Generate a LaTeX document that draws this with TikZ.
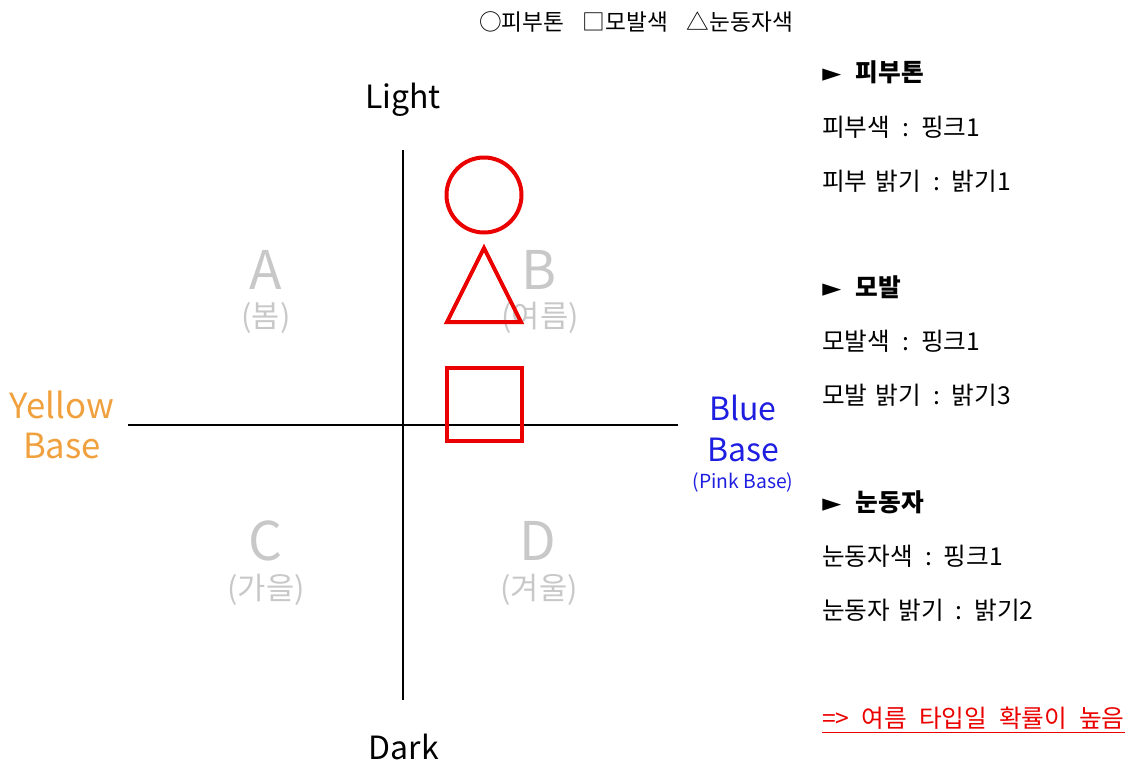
\documentclass[tikz,border=0pt]{standalone}
\usepackage{fontspec}
\setmainfont{Noto Sans CJK KR}
\newfontfamily\symfont{DejaVu Sans}
\definecolor{quadgray}{RGB}{200,200,200}
\definecolor{ybase}{RGB}{240,160,60}
\definecolor{bbase}{RGB}{30,30,225}
\definecolor{redmark}{RGB}{235,0,0}
\newcommand{\sep}{\hspace{9pt}}
\newcommand{\wsp}{\hspace{6pt}}
\newcommand{\tri}{{\symfont ►}\hspace{11pt}}
\begin{document}
\begin{tikzpicture}[x=0.75pt,y=-0.75pt,
  axis/.style={line width=1.5pt,black},
  shapemark/.style={draw=redmark,line width=3pt},
  quad/.style={text=quadgray,font=\fontsize{40}{40}\selectfont,inner sep=0pt},
  season/.style={text=quadgray,font=\fontsize{23}{23}\selectfont,inner sep=0pt},
  axlabel/.style={font=\fontsize{24}{24}\selectfont,inner sep=0pt},
  info/.style={anchor=west,font=\fontsize{18.5}{18.5}\selectfont,inner sep=0pt},
  head/.style={anchor=west,font=\fontsize{18.5}{18.5}\selectfont\bfseries,inner sep=0pt}]
\useasboundingbox (0,0) rectangle (1134,764);
\node[font=\fontsize{17}{17}\selectfont,inner sep=0pt] (title) at (636,22) {○피부톤\hspace{14pt}□모발색\hspace{14pt}△눈동자색};
\coordinate (vt) at (403,150);
\coordinate (vb) at (403,700);
\coordinate (hl) at (128,425);
\coordinate (hr) at (678,425);
\draw[axis] (vt) -- (vb);
\draw[axis] (hl) -- (hr);
\node[axlabel] (light) at (403,100) {Light};
\node[axlabel] (dark) at (404,747) {Dark};
\node[quad] (A) at (266,270) {A};
\node[season] (As) at (266,318) {(봄)};
\node[quad] (B) at (539,270) {B};
\node[season] (Bs) at (540,318) {(여름)};
\node[quad] (C) at (266,541) {C};
\node[season] (Cs) at (266,590) {(가을)};
\node[quad] (D) at (538,541) {D};
\node[season] (Ds) at (539,590) {(겨울)};
\node[axlabel,text=ybase,font=\fontsize{26}{26}\selectfont] (yel) at (62,405) {Yellow};
\node[axlabel,text=ybase,font=\fontsize{26}{26}\selectfont] (ybase) at (62,446) {Base};
\node[axlabel,text=bbase] (blue) at (743,408) {Blue};
\node[axlabel,text=bbase] (bbase) at (743,450) {Base};
\node[text=bbase,font=\fontsize{14.5}{14.5}\selectfont,inner sep=0pt] (pink) at (743,482) {(Pink Base)};
\node[shapemark,circle,minimum size=56.25pt,inner sep=0pt] (circ) at (484,195) {};
\draw[shapemark,line join=miter] (484,248) -- (447,322) -- (521,322) -- cycle;
\draw[shapemark] (447,368) rectangle (522,441);
\node[head] (h1) at (822,72) {\tri{}피부톤};
\node[info] (t1) at (822,127) {피부색\sep{}:\sep{}핑크1};
\node[info] (t2) at (822,181) {피부\wsp{}밝기\sep{}:\sep{}밝기1};
\node[head] (h2) at (822,287) {\tri{}모발};
\node[info] (t3) at (822,341) {모발색\sep{}:\sep{}핑크1};
\node[info] (t4) at (822,395) {모발\wsp{}밝기\sep{}:\sep{}밝기3};
\node[head] (h3) at (822,502) {\tri{}눈동자};
\node[info] (t5) at (822,556) {눈동자색\sep{}:\sep{}핑크1};
\node[info] (t6) at (822,610) {눈동자\wsp{}밝기\sep{}:\sep{}밝기2};
\node[info,text=redmark] (concl) at (822,718) {=>\hspace{9pt}여름\hspace{9pt}타입일\hspace{9pt}확률이\hspace{9pt}높음};
\draw[redmark,line width=1pt] ([yshift=-2pt]concl.south west) -- ([yshift=-2pt]concl.south east);
\end{tikzpicture}
\end{document}
